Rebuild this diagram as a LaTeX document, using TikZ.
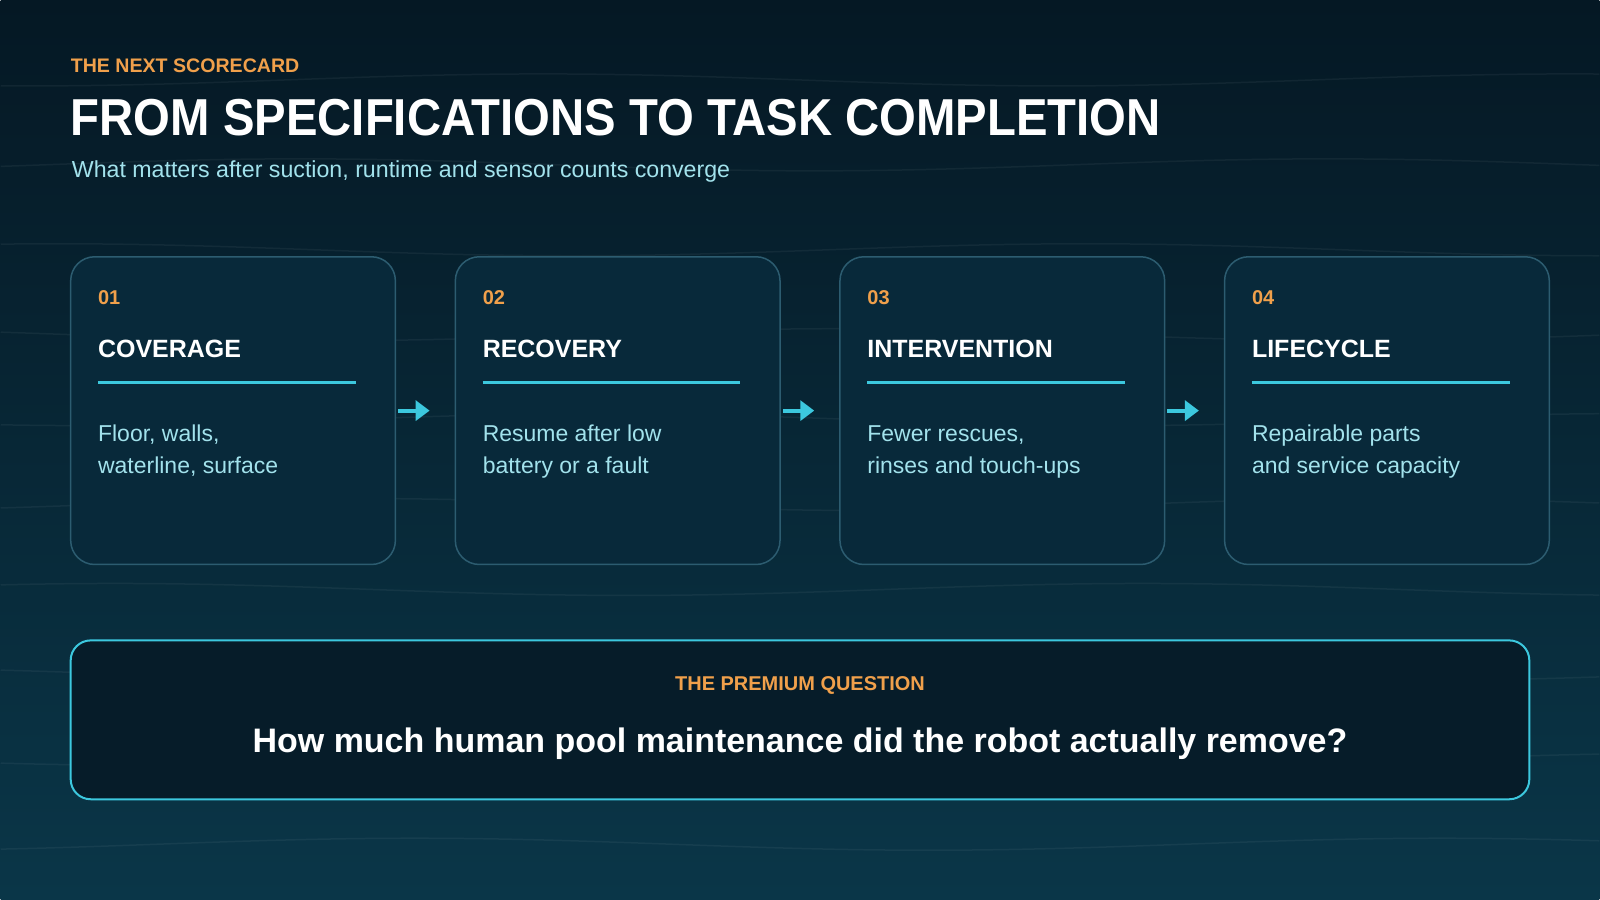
\documentclass[tikz,border=0pt]{standalone}
\usepackage{fontspec}
\setmainfont{Liberation Sans}
\newfontfamily\titlefont{Liberation Sans}[FakeStretch=0.91]
\usetikzlibrary{positioning,arrows.meta,calc}
\usepackage{xcolor}
\definecolor{bgtop}{RGB}{5,24,36}
\definecolor{bgbot}{RGB}{10,54,72}
\definecolor{cardfill}{RGB}{8,41,58}
\definecolor{cardline}{RGB}{44,92,112}
\definecolor{accent}{RGB}{240,160,75}
\definecolor{cyanline}{RGB}{60,200,222}
\definecolor{bodytext}{RGB}{162,226,236}
\definecolor{qfill}{RGB}{6,28,41}

\begin{document}
\begin{tikzpicture}[x=1pt, y=-1pt,
    card/.style={draw=cardline, line width=1.5pt, rounded corners=24pt, fill=cardfill,
                 minimum width=325pt, minimum height=308pt},
    num/.style={anchor=base west, inner sep=0pt, text=accent,
                font=\fontsize{20}{24}\selectfont\bfseries},
    head/.style={anchor=base west, inner sep=0pt, text=white,
                 font=\fontsize{25}{30}\selectfont\bfseries},
    body/.style={anchor=north west, inner sep=0pt, text=bodytext, align=left,
                 font=\fontsize{23}{32}\selectfont},
    rule/.style={draw=cyanline, line width=3pt},
    flow/.style={-{Triangle[length=14pt,width=20pt]}, line width=4pt, draw=cyanline,
                 shorten <=2pt, shorten >=25pt},
    wave/.style={draw=white, opacity=0.05, line width=1.5pt}
]
    % Background and faint water lines
    \shade[top color=bgtop, bottom color=bgbot] (0,0) rectangle (1600,900);
    \foreach \wy in {80,165,...,845}
        \draw[wave] plot[domain=0:1600, samples=60, smooth] (\x, {\wy + 6*sin(\x*0.35 + \wy)});

    % Heading
    \node[anchor=base west, inner sep=0pt, text=accent, font=\fontsize{19.6}{24}\selectfont\bfseries]
        (kicker) at (70,73) {THE NEXT SCORECARD};
    \node[anchor=base west, inner sep=0pt, text=white, font=\titlefont\fontsize{52}{60}\selectfont\bfseries]
        (title) at (70,136) {FROM SPECIFICATIONS TO TASK COMPLETION};
    \node[anchor=base west, inner sep=0pt, text=bodytext, font=\fontsize{23.2}{28}\selectfont]
        (subtitle) at (71,178) {What matters after suction, runtime and sensor counts converge};

    % Four scorecard steps
    \node[card] (coverage)     at (232.5,411)  {};
    \node[card] (recovery)     at (617.5,411)  {};
    \node[card] (intervention) at (1002.5,411) {};
    \node[card] (lifecycle)    at (1387.5,411) {};

    \node[num]  (n1) at ($(coverage.north west)+(28,49)$)  {01};
    \node[head] (h1) at ($(coverage.north west)+(28,102)$) {COVERAGE};
    \draw[rule] ($(coverage.north west)+(28,127)$) -- ++(258,0);
    \node[body] (b1) at ($(coverage.north west)+(28,169)$) {Floor, walls,\\waterline, surface};

    \node[num]  (n2) at ($(recovery.north west)+(28,49)$)  {02};
    \node[head] (h2) at ($(recovery.north west)+(28,102)$) {RECOVERY};
    \draw[rule] ($(recovery.north west)+(28,127)$) -- ++(258,0);
    \node[body] (b2) at ($(recovery.north west)+(28,169)$) {Resume after low\\battery or a fault};

    \node[num]  (n3) at ($(intervention.north west)+(28,49)$)  {03};
    \node[head] (h3) at ($(intervention.north west)+(28,102)$) {INTERVENTION};
    \draw[rule] ($(intervention.north west)+(28,127)$) -- ++(258,0);
    \node[body] (b3) at ($(intervention.north west)+(28,170)$) {Fewer rescues,\\rinses and touch-ups};

    \node[num]  (n4) at ($(lifecycle.north west)+(28,49)$)  {04};
    \node[head] (h4) at ($(lifecycle.north west)+(28,102)$) {LIFECYCLE};
    \draw[rule] ($(lifecycle.north west)+(28,127)$) -- ++(258,0);
    \node[body] (b4) at ($(lifecycle.north west)+(28,169)$) {Repairable parts\\and service capacity};

    \draw[flow] (coverage) -- (recovery);
    \draw[flow] (recovery) -- (intervention);
    \draw[flow] (intervention) -- (lifecycle);

    % The premium question
    \node[draw=cyanline, line width=2pt, rounded corners=20pt, fill=qfill,
          minimum width=1460pt, minimum height=159pt] (question) at (800,720.5) {};
    \node[anchor=base, inner sep=0pt, text=accent, font=\fontsize{20}{24}\selectfont\bfseries]
        (premium) at (800,691) {THE PREMIUM QUESTION};
    \node[anchor=base, inner sep=0pt, text=white, font=\fontsize{34}{40}\selectfont\bfseries]
        (ask) at (800,753) {How much human pool maintenance did the robot actually remove?};
\end{tikzpicture}
\end{document}
